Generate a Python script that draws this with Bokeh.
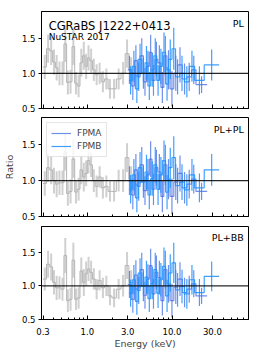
import numpy as np
from bokeh.plotting import figure
from bokeh.models import (FixedTicker, Range1d, Label, Span, Legend, LegendItem,
                          CustomJSTickFormatter)
from bokeh.layouts import column
from bokeh.embed import file_html
from bokeh.resources import INLINE

# ---------------- data ----------------
x_ticks = [0.3, 1.0, 3.0, 10.0, 30.0]
x_minor = [0.4, 0.5, 0.6, 0.7, 0.8, 0.9, 2, 4, 5, 6, 7, 8, 9, 20, 40, 50, 60, 70, 80]
y_ticks = [0.5, 1.0, 1.5]

gray_edges = [0.30, 0.33, 0.36, 0.39, 0.42, 0.45, 0.49, 0.53, 0.57, 0.61, 0.66, 0.71,
              0.76, 0.82, 0.88, 0.94, 1.00, 1.07, 1.15, 1.24, 1.34, 1.46, 1.60, 1.76,
              1.95, 2.20, 2.50, 2.80, 3.10, 3.50]
gray_pl = [1.09, 1.35, 1.32, 1.16, 1.08, 1.00, 1.00, 1.42, 0.87, 0.88, 1.38, 0.86, 0.82,
           1.15, 1.25, 1.10, 1.22, 1.18, 1.05, 0.98, 1.00, 0.88, 0.92, 0.78, 0.78, 0.92,
           1.00, 1.28, 1.05]
gray_plpl = [0.96, 1.18, 1.15, 1.00, 0.95, 0.97, 0.97, 1.40, 0.82, 0.85, 1.30, 0.84, 0.88,
             1.15, 1.05, 1.10, 1.28, 1.22, 1.00, 0.92, 1.05, 0.90, 0.92, 0.85, 0.85, 1.00,
             1.00, 1.32, 1.02]
gray_plbb = [1.10, 1.32, 1.28, 1.05, 0.97, 0.97, 0.95, 1.45, 0.78, 0.80, 1.38, 0.80, 0.82,
             1.22, 1.05, 1.18, 1.25, 1.20, 1.10, 0.95, 1.08, 0.97, 1.00, 0.85, 0.82, 0.95,
             1.00, 1.30, 1.05]
gray_err = [0.17, 0.20, 0.20, 0.18, 0.18, 0.17, 0.17, 0.26, 0.17, 0.17, 0.26, 0.16, 0.16,
            0.20, 0.20, 0.18, 0.18, 0.17, 0.16, 0.15, 0.15, 0.15, 0.15, 0.14, 0.14, 0.15,
            0.16, 0.20, 0.18]

fpma_edges = [3.0, 3.3, 3.6, 3.9, 4.2, 4.6, 5.0, 5.4, 5.8, 6.3, 6.8, 7.4, 8.0, 8.7, 9.5,
              10.5, 11.7, 13.2, 15.0, 17.0, 19.2, 26.0]
fpma_pl = [1.05, 0.82, 1.18, 0.95, 1.25, 0.88, 1.10, 1.30, 0.90, 1.20, 1.15, 0.80, 1.25,
           1.05, 0.78, 1.00, 1.12, 0.92, 0.95, 1.05, 0.84]
fpma_plpl = [1.00, 0.80, 1.15, 0.92, 1.22, 0.86, 1.08, 1.30, 0.88, 1.18, 1.12, 0.78, 1.22,
             1.02, 0.78, 0.98, 1.10, 0.90, 0.95, 1.02, 0.85]
fpma_plbb = [1.02, 0.80, 1.16, 0.93, 1.24, 0.86, 1.10, 1.30, 0.88, 1.20, 1.12, 0.78, 1.24,
             1.03, 0.78, 0.98, 1.10, 0.90, 0.95, 1.03, 0.85]
fpma_err = [0.20, 0.20, 0.22, 0.20, 0.25, 0.20, 0.22, 0.25, 0.22, 0.25, 0.25, 0.22, 0.28,
            0.28, 0.25, 0.25, 0.25, 0.22, 0.20, 0.20, 0.12]

fpmb_edges = [3.1, 3.4, 3.7, 4.0, 4.4, 4.8, 5.2, 5.6, 6.1, 6.6, 7.1, 7.7, 8.4, 9.1, 10.0,
              11.0, 12.3, 14.0, 16.0, 18.5, 24.0, 36.0]
fpmb_pl = [0.90, 1.10, 0.78, 1.20, 1.00, 1.15, 0.82, 1.05, 1.25, 0.90, 1.10, 1.30, 0.85,
           1.20, 1.35, 0.95, 1.00, 0.88, 1.10, 0.90, 1.12]
fpmb_plpl = [0.88, 1.08, 0.76, 1.18, 0.98, 1.12, 0.80, 1.03, 1.22, 0.88, 1.08, 1.28, 0.84,
             1.18, 1.32, 0.93, 0.98, 0.87, 1.08, 0.90, 1.15]
fpmb_plbb = [0.89, 1.09, 0.77, 1.19, 0.99, 1.13, 0.81, 1.04, 1.24, 0.89, 1.09, 1.29, 0.85,
             1.19, 1.34, 0.94, 0.99, 0.88, 1.09, 0.90, 1.14]
fpmb_err = [0.20, 0.22, 0.20, 0.22, 0.22, 0.24, 0.20, 0.24, 0.25, 0.22, 0.25, 0.28, 0.24,
            0.28, 0.30, 0.25, 0.25, 0.22, 0.22, 0.20, 0.22]

model_names = ["PL", "PL+PL", "PL+BB"]
title_text = "CGRaBS J1222+0413"
subtitle_text = "NuSTAR 2017"

FONT = "DejaVu Sans"
GRAY_STEP = "#b4b4b4"
GRAY_ERR = "#d0d0d0"
FPMA_C = "royalblue"
FPMB_C = "dodgerblue"
fmt = CustomJSTickFormatter(code="return tick.toFixed(1);")
blank_fmt = CustomJSTickFormatter(code="return '';")


def step_xy(edges, vals):
    xs, ys = [], []
    for i, v in enumerate(vals):
        xs += [edges[i], edges[i + 1]]
        ys += [v, v]
    return xs, ys


def errbars(edges, vals, errs):
    e = np.array(edges)
    xc = np.sqrt(e[:-1] * e[1:])
    v = np.array(vals)
    er = np.array(errs)
    return [[x, x] for x in xc], [[a - b, a + b] for a, b in zip(v, er)]


def make_fig(height, top, bottom, show_x, ylabel=None):
    p = figure(width=250, height=height, x_axis_type="log",
               x_range=Range1d(0.288, 80), y_range=Range1d(0.5, 1.88),
               output_backend="svg", toolbar_location=None,
               min_border_left=34, min_border_right=2,
               min_border_top=top, min_border_bottom=bottom)
    p.grid.visible = False
    p.outline_line_color = "black"
    p.outline_line_width = 1
    p.background_fill_color = "white"
    p.border_fill_color = "white"

    xa = p.xaxis[0]
    xa.ticker = FixedTicker(ticks=x_ticks, minor_ticks=x_minor)
    xa.major_tick_in = 4
    xa.major_tick_out = 0
    xa.minor_tick_in = 2
    xa.minor_tick_out = 0
    xa.axis_line_color = "black"
    xa.major_label_text_font = FONT
    xa.major_label_text_color = "black"
    xa.major_label_text_font_size = "8.5px"
    if show_x:
        xa.formatter = fmt
        xa.major_label_standoff = 8
        xa.axis_label = "Energy (keV)"
        xa.axis_label_text_font = FONT
        xa.axis_label_text_font_size = "9.5px"
        xa.axis_label_text_font_style = "normal"
        xa.axis_label_standoff = 0
    else:
        xa.formatter = blank_fmt
        xa.major_label_standoff = 0

    ya = p.yaxis[0]
    ya.ticker = FixedTicker(ticks=y_ticks, minor_ticks=[])
    ya.formatter = fmt
    ya.major_tick_in = 0
    ya.major_tick_out = 3
    ya.minor_tick_in = 0
    ya.minor_tick_out = 0
    ya.axis_line_color = "black"
    ya.major_label_text_font = FONT
    ya.major_label_text_font_size = "8.5px"
    ya.major_label_text_color = "black"
    ya.major_label_standoff = 3
    if ylabel:
        ya.axis_label = ylabel
        ya.axis_label_text_font = FONT
        ya.axis_label_text_font_size = "9.5px"
        ya.axis_label_text_font_style = "normal"
        ya.axis_label_standoff = 4
    return p


def fill_panel(p, g, a, b, name):
    gx, gy = step_xy(gray_edges, g)
    ex, ey = errbars(gray_edges, g, gray_err)
    p.multi_line(ex, ey, line_color=GRAY_ERR, line_width=2)
    p.line(gx, gy, line_color=GRAY_STEP, line_width=1)

    ax_, ay_ = step_xy(fpma_edges, a)
    ex, ey = errbars(fpma_edges, a, fpma_err)
    p.multi_line(ex, ey, line_color=FPMA_C, line_alpha=0.75, line_width=1.2)
    ra = p.line(ax_, ay_, line_color=FPMA_C, line_alpha=0.75, line_width=1.2)

    bx_, by_ = step_xy(fpmb_edges, b)
    ex, ey = errbars(fpmb_edges, b, fpmb_err)
    p.multi_line(ex, ey, line_color=FPMB_C, line_alpha=0.85, line_width=1.2)
    rb = p.line(bx_, by_, line_color=FPMB_C, line_alpha=0.85, line_width=1.2)

    p.add_layout(Span(location=1.0, dimension="width", line_color="black",
                      line_width=1.2, line_alpha=0.85))
    p.add_layout(Label(x=70.5, y=1.71, text=name, text_align="right",
                       text_baseline="middle", text_font=FONT,
                       text_font_size="9.5px", text_color="black"))
    return ra, rb


p1 = make_fig(113, 11, 5, False)
fill_panel(p1, gray_pl, fpma_pl, fpmb_pl, model_names[0])
p1.add_layout(Label(x=0.35, y=1.67, text=title_text, text_align="left",
                    text_baseline="middle", text_font=FONT,
                    text_font_size="11.5px", text_color="black"))
p1.add_layout(Label(x=0.35, y=1.52, text=subtitle_text, text_align="left",
                    text_baseline="middle", text_font=FONT,
                    text_font_size="9px", text_color="black"))

p2 = make_fig(108, 4, 5, False, ylabel="Ratio")
ra, rb = fill_panel(p2, gray_plpl, fpma_plpl, fpmb_plpl, model_names[1])
leg = Legend(items=[LegendItem(label="FPMA", renderers=[ra]),
                    LegendItem(label="FPMB", renderers=[rb])],
             location="top_left")
leg.label_text_font = FONT
leg.label_text_font_size = "9px"
leg.glyph_width = 20
leg.glyph_height = 12
leg.label_height = 12
leg.label_standoff = 6
leg.padding = 4
leg.spacing = 1
leg.margin = 5
leg.border_line_color = "#cccccc"
leg.border_line_width = 1
leg.background_fill_alpha = 0.8
p2.add_layout(leg)

p3 = make_fig(130, 5, 29, True)
fill_panel(p3, gray_plbb, fpma_plbb, fpmb_plbb, model_names[2])

layout = column(p1, p2, p3, spacing=0)
open("out.html", "w").write(file_html(layout, INLINE))
